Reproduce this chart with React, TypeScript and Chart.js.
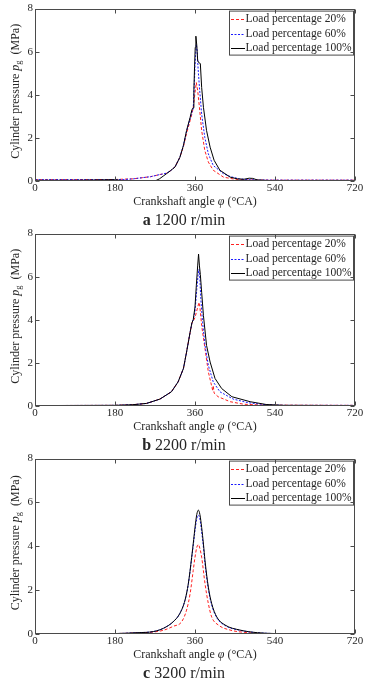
import React, { useEffect, useRef } from "react";
import { Chart, registerables } from "chart.js";
Chart.register(...registerables);

// ---------- data ----------
const xTicks = [0, 180, 360, 540, 720];
const yTicks = [0, 2, 4, 6, 8];
const seriesLabels = ["Load percentage 20%", "Load percentage 60%", "Load percentage 100%"];
const panelLetters = ["a", "b", "c"];
const panelSpeeds = ["1200 r/min", "2200 r/min", "3200 r/min"];

// panel a: 1200 r/min
const angA20 = [0, 180, 221, 240, 260, 281, 296, 305, 315, 326, 334, 341, 349, 353, 356, 360, 363, 366, 370, 375, 382, 390, 401, 424, 450, 480, 540, 720];
const presA20 = [0.06, 0.07, 0.1, 0.15, 0.2, 0.3, 0.36, 0.48, 0.65, 1.1, 1.6, 2.2, 2.8, 3.1, 3.4, 4.1, 4.57, 4.2, 3.42, 2.34, 1.42, 0.88, 0.5, 0.18, 0.08, 0.05, 0.04, 0.04];
const angA60 = [0, 180, 200, 221, 240, 260, 281, 296, 305, 315, 326, 334, 341, 349, 353, 356, 358, 360, 361.5, 363, 365, 367, 370, 375, 382, 390, 401, 424, 440, 460, 480, 500, 540, 720];
const presA60 = [0.06, 0.06, 0.07, 0.1, 0.15, 0.2, 0.3, 0.36, 0.48, 0.65, 1.1, 1.65, 2.3, 2.9, 3.2, 3.35, 4.3, 5.3, 5.9, 6.34, 6.0, 5.2, 4.34, 3.1, 2.03, 1.26, 0.72, 0.34, 0.2, 0.1, 0.06, 0.05, 0.04, 0.04];
const angA100 = [0, 90, 175, 185, 200, 220, 250, 270, 280, 290, 296, 305, 315, 326, 334, 341, 349, 353, 356, 357.5, 359, 360.5, 362, 364, 366, 368, 372, 375, 379, 386, 394, 403, 416, 439, 455, 470, 482, 490, 500, 525, 600, 720];
const presA100 = [0.03, 0.03, 0.06, 0.05, 0.01, 0.0, 0.0, 0.0, 0.1, 0.25, 0.34, 0.48, 0.65, 1.1, 1.65, 2.34, 2.95, 3.3, 3.4, 4.2, 5.3, 6.2, 6.72, 6.3, 5.6, 5.5, 5.45, 4.34, 3.42, 2.34, 1.57, 0.96, 0.5, 0.18, 0.1, 0.08, 0.13, 0.12, 0.05, 0.02, 0.02, 0.02];

// panel b: 2200 r/min
const angB20 = [0, 180, 220, 251, 281, 307, 322, 334, 341, 349, 353, 356, 360, 365, 369, 371, 375, 382.5, 390, 397, 400, 401, 403, 412, 439, 470, 520, 720];
const presB20 = [0.02, 0.03, 0.06, 0.12, 0.32, 0.66, 1.12, 1.74, 2.5, 3.42, 3.85, 3.95, 4.1, 4.5, 4.81, 4.6, 3.73, 2.66, 1.58, 0.97, 0.7, 0.95, 0.6, 0.43, 0.2, 0.08, 0.04, 0.03];
const angB60 = [0, 180, 220, 251, 281, 307, 322, 334, 341, 349, 353, 356, 360, 364, 367, 369, 371, 373, 377, 382.5, 390, 401, 416, 446, 480, 520, 560, 720];
const presB60 = [0.02, 0.03, 0.06, 0.12, 0.32, 0.66, 1.12, 1.74, 2.5, 3.42, 3.85, 4.0, 4.4, 5.4, 6.1, 6.34, 5.9, 5.0, 3.89, 2.81, 1.89, 1.12, 0.66, 0.32, 0.15, 0.06, 0.03, 0.03];
const angB100 = [0, 180, 220, 251, 281, 307, 322, 334, 341, 349, 353, 356, 360, 363, 366, 368, 370, 372, 375, 379, 386, 394, 405, 420, 443, 484, 520, 560, 720];
const presB100 = [0.02, 0.03, 0.06, 0.12, 0.32, 0.66, 1.12, 1.74, 2.5, 3.42, 3.85, 4.0, 4.6, 5.6, 6.5, 7.05, 6.5, 6.1, 5.27, 4.19, 2.81, 2.04, 1.28, 0.81, 0.43, 0.2, 0.07, 0.03, 0.02];

// panel c: 3200 r/min
const angC20 = [0, 180, 230, 266, 289, 311, 330, 341, 349, 356, 360, 364, 367.5, 371, 375, 382.5, 390, 397.5, 412.5, 439, 480, 540, 600, 720];
const presC20 = [0.0, 0.02, 0.05, 0.09, 0.17, 0.35, 0.56, 1.09, 1.84, 2.9, 3.5, 3.95, 4.08, 3.9, 3.5, 2.3, 1.39, 0.78, 0.41, 0.18, 0.06, 0.01, 0.0, 0.0];
const angC = [0, 180, 230, 266, 289, 311, 326, 337.5, 345, 352.5, 357, 360, 364, 367.5, 371, 375, 379, 382.5, 390, 397.5, 409, 427.5, 461, 500, 540, 600, 720];
const presC60 = [0.0, 0.02, 0.06, 0.11, 0.26, 0.56, 0.94, 1.54, 2.28, 3.45, 4.2, 4.72, 5.25, 5.42, 5.25, 4.65, 3.95, 3.2, 2.05, 1.33, 0.74, 0.39, 0.17, 0.06, 0.02, 0.0, 0.0];
const presC100 = [0.0, 0.02, 0.06, 0.11, 0.26, 0.56, 0.94, 1.54, 2.3, 3.5, 4.3, 4.86, 5.45, 5.65, 5.45, 4.86, 4.1, 3.35, 2.14, 1.39, 0.78, 0.41, 0.18, 0.06, 0.02, 0.0, 0.0];

// ---------- styling ----------
const FONT = "'Liberation Serif', 'Times New Roman', serif";
const TEXT = "#262626";
const FRAME = "#4a4a4a";
const lineStyles = [
  { color: "#ff2020", dash: [3, 2] },
  { color: "#1a1aff", dash: [2, 1.5] },
  { color: "#000000", dash: [] as number[] },
];

const panels = [
  { top: 0, height: 225, plotTop: 7, plotBottom: 181, smooth: false,
    series: [[angA20, presA20], [angA60, presA60], [angA100, presA100]] },
  { top: 225, height: 225, plotTop: 7, plotBottom: 181, smooth: false,
    series: [[angB20, presB20], [angB60, presB60], [angB100, presB100]] },
  { top: 450, height: 230, plotTop: 7, plotBottom: 184, smooth: true,
    series: [[angC20, presC20], [angC, presC60], [angC, presC100]] },
];

function Panel({ idx }: { idx: number }) {
  const ref = useRef<HTMLCanvasElement>(null);
  const p = panels[idx];
  useEffect(() => {
    const canvas = ref.current!;
    const decor = {
      id: "decor",
      afterDraw(chart: any) {
        const ctx = chart.ctx as CanvasRenderingContext2D;
        const { left, right, top, bottom } = chart.chartArea;
        const xs = chart.scales.x, ys = chart.scales.y;
        const L = Math.round(left) + 0.5, R = Math.round(right) - 0.5;
        const T = Math.round(top) + 0.5, B = Math.round(bottom) - 0.5;
        ctx.save();
        // legend
        const lx = 229.5, ly = top + 2.5, lw = 124, lh = 44;
        ctx.fillStyle = "#fff";
        ctx.fillRect(lx, ly, lw, lh);
        ctx.strokeStyle = FRAME; ctx.lineWidth = 1; ctx.setLineDash([]);
        ctx.strokeRect(lx, ly, lw, lh);
        const rows = [top + 10.5, top + 25, top + 39];
        ctx.font = `11.5px ${FONT}`;
        ctx.textBaseline = "middle"; ctx.textAlign = "left";
        rows.forEach((ry, i) => {
          const s = lineStyles[i];
          ctx.strokeStyle = s.color; ctx.setLineDash(s.dash);
          ctx.beginPath(); ctx.moveTo(231, Math.round(ry) + 0.5); ctx.lineTo(245, Math.round(ry) + 0.5); ctx.stroke();
          ctx.fillStyle = TEXT;
          ctx.fillText(seriesLabels[i], 245.5, ry);
        });
        ctx.setLineDash([]);
        // frame
        ctx.strokeStyle = FRAME; ctx.lineWidth = 1;
        ctx.strokeRect(L, T, R - L, B - T);
        // inward ticks
        ctx.beginPath();
        xTicks.forEach((v) => {
          const px = Math.round(xs.getPixelForValue(v)) + 0.5;
          ctx.moveTo(px, B); ctx.lineTo(px, B - 4);
          ctx.moveTo(px, T); ctx.lineTo(px, T + 4);
        });
        yTicks.forEach((v) => {
          const py = Math.round(ys.getPixelForValue(v)) + 0.5;
          ctx.moveTo(L, py); ctx.lineTo(L + 4, py);
          ctx.moveTo(R, py); ctx.lineTo(R - 4, py);
        });
        ctx.stroke();
        // x title
        ctx.fillStyle = TEXT; ctx.textBaseline = "middle"; ctx.textAlign = "left";
        const xParts: [string, string][] = [
          ["Crankshaft angle ", `12px ${FONT}`],
          ["φ", `italic 12px ${FONT}`],
          [" (°CA)", `12px ${FONT}`],
        ];
        let tw = 0;
        xParts.forEach(([t, f]) => { ctx.font = f; tw += ctx.measureText(t).width; });
        let cx = (left + right) / 2 - tw / 2;
        const ty = bottom + 20.5;
        xParts.forEach(([t, f]) => { ctx.font = f; ctx.fillText(t, cx, ty); cx += ctx.measureText(t).width; });
        // y title (rotated, with italic p and subscript g)
        const yParts: [string, string, number][] = [
          ["Cylinder pressure ", `12px ${FONT}`, 0],
          ["p", `italic 12px ${FONT}`, 0],
          ["g", `8.5px ${FONT}`, 3],
          ["  (MPa)", `12px ${FONT}`, 0],
        ];
        let yw = 0;
        yParts.forEach(([t, f]) => { ctx.font = f; yw += ctx.measureText(t).width; });
        ctx.translate(16, (top + bottom) / 2 - 3.5);
        ctx.rotate(-Math.PI / 2);
        let yx = -yw / 2;
        yParts.forEach(([t, f, dy]) => { ctx.font = f; ctx.fillText(t, yx, dy); yx += ctx.measureText(t).width; });
        ctx.restore();
      },
    };
    const datasets = p.series.map(([xsArr, ysArr], i) => ({
      label: seriesLabels[i],
      data: xsArr.map((x, k) => ({ x, y: ysArr[k] })),
      borderColor: lineStyles[i].color,
      borderDash: lineStyles[i].dash,
      borderWidth: 1,
      pointRadius: 0,
      fill: false,
      tension: 0,
      cubicInterpolationMode: p.smooth ? "monotone" : "default",
      order: 2 - i,
    }));
    const chart = new Chart(canvas, {
      type: "line",
      data: { datasets: datasets as any },
      options: {
        animation: false,
        responsive: false,
        devicePixelRatio: 1,
        layout: { padding: { top: p.plotTop, right: 21, left: 0, bottom: 0 } },
        plugins: { legend: { display: false }, tooltip: { enabled: false } },
        scales: {
          x: {
            type: "linear", min: 0, max: 720,
            afterBuildTicks: (s: any) => { s.ticks = xTicks.map((v) => ({ value: v })); },
            afterFit: (s: any) => { s.height = p.height - p.plotBottom; },
            grid: { display: false, drawTicks: false },
            border: { display: false },
            ticks: { padding: 1, color: TEXT, font: { family: FONT, size: 11 }, maxRotation: 0 },
          },
          y: {
            type: "linear", min: 0, max: 8,
            afterBuildTicks: (s: any) => { s.ticks = yTicks.map((v) => ({ value: v })); },
            afterFit: (s: any) => { s.width = 35; },
            grid: { display: false, drawTicks: false },
            border: { display: false },
            ticks: { padding: 2, color: TEXT, font: { family: FONT, size: 11 } },
          },
        },
      },
      plugins: [decor],
    });
    return () => chart.destroy();
  }, [idx]);
  const baseline = p.plotBottom + 44;
  return (
    <div style={{ position: "absolute", left: 0, top: p.top, width: 376, height: p.height }}>
      <canvas ref={ref} width={376} height={p.height} style={{ display: "block" }} />
      <div
        style={{
          position: "absolute", left: 0, width: 368, top: baseline - 14.4, height: 18,
          lineHeight: "18px", textAlign: "center", fontFamily: FONT, fontSize: 16, color: TEXT,
          whiteSpace: "nowrap",
        }}
      >
        <b>{panelLetters[idx]}</b> {panelSpeeds[idx]}
      </div>
    </div>
  );
}

export default function App() {
  return (
    <div style={{ position: "absolute", left: 0, top: 0, width: 376, height: 680, background: "#fff", overflow: "hidden" }}>
      {panels.map((_, i) => <Panel key={i} idx={i} />)}
    </div>
  );
}
